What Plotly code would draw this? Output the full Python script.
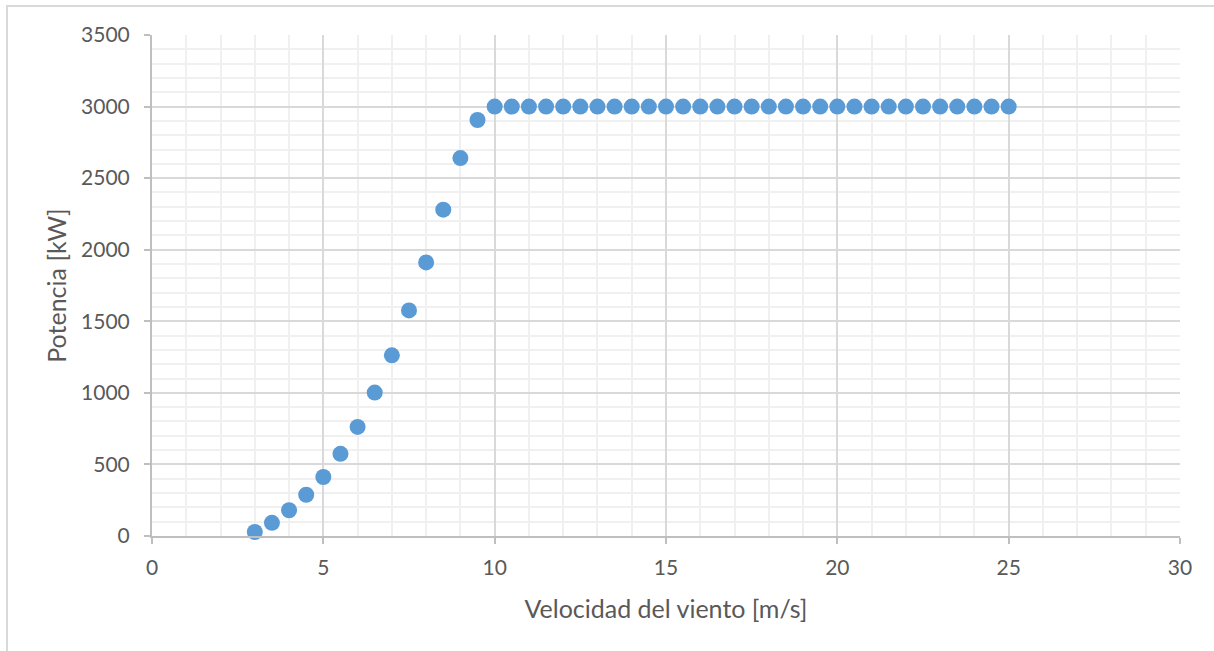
import plotly.graph_objects as go

wind_speed = [3, 3.5, 4, 4.5, 5, 5.5, 6, 6.5, 7, 7.5, 8, 8.5, 9, 9.5,
              10, 10.5, 11, 11.5, 12, 12.5, 13, 13.5, 14, 14.5, 15, 15.5,
              16, 16.5, 17, 17.5, 18, 18.5, 19, 19.5, 20, 20.5, 21, 21.5,
              22, 22.5, 23, 23.5, 24, 24.5, 25]
power_kw = [28, 92, 180, 288, 412, 574, 762, 1002, 1262, 1576, 1911, 2280, 2640, 2906,
            3000, 3000, 3000, 3000, 3000, 3000, 3000, 3000, 3000, 3000, 3000, 3000,
            3000, 3000, 3000, 3000, 3000, 3000, 3000, 3000, 3000, 3000, 3000, 3000,
            3000, 3000, 3000, 3000, 3000, 3000, 3000]

x_title = "Velocidad del viento [m/s]"
y_title = "Potencia [kW]"

FONT = "Lato"
TXT = "#595959"

fig = go.Figure()
fig.add_trace(go.Scatter(
    x=wind_speed, y=power_kw, mode="markers",
    marker=dict(size=16, color="#5B9BD5", line=dict(width=0)),
    cliponaxis=False,
))

axis_common = dict(
    showline=True, linecolor="#BFBFBF", linewidth=2,
    showgrid=True, gridcolor="#D9D9D9", gridwidth=2,
    ticks="outside", ticklen=6, tickcolor="#BFBFBF", tickwidth=2,
    zeroline=False,
    tickfont=dict(family=FONT, size=21, color=TXT),
)

fig.update_xaxes(
    range=[0, 30], dtick=5, tick0=0,
    minor=dict(dtick=1, showgrid=True, gridcolor="#F0F0F0", gridwidth=2, ticks=""),
    title=dict(text=x_title, font=dict(family=FONT, size=25, color=TXT), standoff=22),
    ticklabelstandoff=6,
    **axis_common,
)
fig.update_yaxes(
    range=[0, 3500], dtick=500, tick0=0,
    minor=dict(dtick=100, showgrid=True, gridcolor="#F0F0F0", gridwidth=2, ticks=""),
    title=dict(text=y_title, font=dict(family=FONT, size=25, color=TXT), standoff=7),
    ticklabelstandoff=10,
    **axis_common,
)

fig.add_shape(type="rect", xref="paper", yref="paper",
              x0=(7 - 152) / 1028, x1=(1225 - 152) / 1028,
              y0=(536 - 670) / 501, y1=(536 - 6) / 501,
              line=dict(color="#D9D9D9", width=2), fillcolor="rgba(0,0,0,0)",
              layer="below")

fig.update_layout(
    width=1214, height=651,
    margin=dict(l=152, r=34, t=35, b=115),
    plot_bgcolor="white", paper_bgcolor="white",
    showlegend=False,
)

fig.write_html("out.html",
               config={"displayModeBar": False},
               post_script="document.body.style.margin='0';document.body.style.overflow='hidden';")
